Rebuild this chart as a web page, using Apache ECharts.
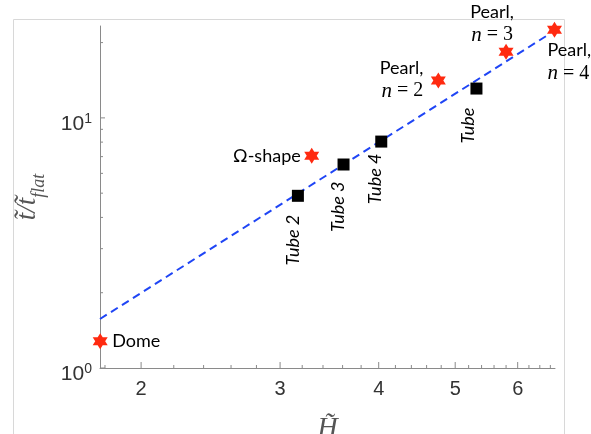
<!DOCTYPE html>
<html>
<head>
<meta charset="utf-8">
<script src="https://cdn.jsdelivr.net/npm/echarts@6/dist/echarts.min.js"></script>
<style>
  html, body { margin: 0; padding: 0; background: #fff; }
  #chart { width: 591px; height: 434px; }
</style>
</head>
<body>
<div id="chart"></div>
<script>
// axis ranges (log scales)
const X_MIN = 1.774, X_MAX = 6.69;
const Y_MIN = 1, Y_MAX = 23.3;

// tick values
const xMajorTicks = [2, 3, 4, 5, 6];
const xMinorTicks = [1.8, 2.2, 2.4, 2.6, 2.8, 3.2, 3.4, 3.6, 3.8, 4.2, 4.4, 4.6, 4.8,
  5.2, 5.4, 5.6, 5.8, 6.2, 6.4, 6.6];
const yMajorTicks = [1, 10];
const yMajorExp = ['0', '1'];
const yMinorTicks = [2, 3, 4, 5, 6, 7, 8, 9, 20];

// red stars
const starH = [1.775, 3.29, 4.76, 5.80, 6.68];
const starT = [1.28, 7.05, 14.1, 18.4, 22.5];
const starLabels = ['Dome', 'Ω-shape', 'Pearl,\n{i|n}{r| = 2}', 'Pearl,\n{i|n}{r| = 3}', 'Pearl,\n{i|n}{r| = 4}'];

// black squares
const tubeH = [3.16, 3.61, 4.03, 5.32];
const tubeT = [4.88, 6.51, 8.04, 13.1];
const tubeLabels = ['Tube 2', 'Tube 3', 'Tube 4', 'Tube'];

// dashed fit line
const fitH = [1.774, 6.56];
const fitT = [1.57, 21.5];

const AXIS_GRAY = '#8a8a8a';
const SANS = 'Liberation Sans';
const LABEL_FONT = 'Lato';
const SERIF = 'Liberation Serif';

const starPath = 'path://M0,-10 L2.89,-5 L8.66,-5 L5.77,0 L8.66,5 L2.89,5 L0,10 L-2.89,5 L-8.66,5 L-5.77,0 L-8.66,-5 L-2.89,-5 Z';

// label placement for the stars: [align, offsetX, offsetY]
const starLabelPlace = [
  ['left', 12, 0],
  ['right', -11, 0],
  ['right', -15, -1],
  ['center', -14, -28],
  ['left', -7, 32]
];
// screen offsets (dx, dy) of the top end of each rotated tube label
const tubeLabelOffset = [[-5, 19], [-5, 17], [-6, 12], [-8, 19]];

function tickSeries(values, axis, len, labelFn) {
  return {
    type: 'custom',
    silent: true,
    clip: false,
    z: 5,
    data: values.map((v, i) => axis === 'x' ? [v, Y_MIN, i] : [X_MIN, v, i]),
    renderItem: (params, api) => {
      const p = api.coord([api.value(0), api.value(1)]);
      const children = [];
      if (axis === 'x') {
        children.push({ type: 'line', shape: { x1: p[0], y1: p[1], x2: p[0], y2: p[1] - len },
          style: { stroke: AXIS_GRAY, lineWidth: 1 } });
      } else {
        children.push({ type: 'line', shape: { x1: p[0], y1: p[1], x2: p[0] + len, y2: p[1] },
          style: { stroke: AXIS_GRAY, lineWidth: 1 } });
      }
      if (labelFn) children.push(labelFn(p, api.value(2)));
      return { type: 'group', children };
    }
  };
}

const xLabel = (p, i) => ({
  type: 'text',
  style: {
    text: String(xMajorTicks[i]), x: p[0], y: p[1] + 11,
    fill: '#333', fontSize: 20, fontFamily: SANS,
    align: 'center', verticalAlign: 'top', textAlign: 'center', textVerticalAlign: 'top'
  }
});

const yLabel = (p, i) => ({
  type: 'text',
  style: {
    text: '{b|10}{p|' + yMajorExp[i] + '}', x: p[0] - 8, y: p[1] + 6,
    fill: '#333', align: 'right', verticalAlign: 'middle', textAlign: 'right', textVerticalAlign: 'middle',
    rich: {
      b: { fontSize: 21, fontFamily: SANS, fill: '#333', lineHeight: 24 },
      p: { fontSize: 14, fontFamily: SANS, fill: '#333', lineHeight: 4, verticalAlign: 'top' }
    }
  }
});

const starData = starH.map((h, i) => ({
  value: [h, starT[i]],
  label: {
    position: 'inside',
    align: starLabelPlace[i][0],
    verticalAlign: 'middle',
    offset: [starLabelPlace[i][1], starLabelPlace[i][2]]
  }
}));

// label offset is applied in the rotated frame: screen (dx, dy) -> (-dy, dx)
const tubeData = tubeH.map((h, i) => ({
  value: [h, tubeT[i]],
  label: { offset: [-tubeLabelOffset[i][1], tubeLabelOffset[i][0]] }
}));

const chart = echarts.init(document.getElementById('chart'));
chart.setOption({
  animation: false,
  backgroundColor: '#fff',
  grid: { left: 100, right: 36, top: 26, bottom: 66, outerBoundsMode: 'none', containLabel: false },
  graphic: [{
    type: 'rect', silent: true, z: -10,
    shape: { x: 13.5, y: 19.5, width: 551, height: 430 },
    style: { fill: 'none', stroke: '#d8d8d8', lineWidth: 1 }
  }],
  xAxis: {
    type: 'log', min: X_MIN, max: X_MAX,
    axisLine: { show: true, lineStyle: { color: AXIS_GRAY, width: 1 } },
    axisTick: { show: false }, axisLabel: { show: false }, splitLine: { show: false },
    name: 'H\u0303', nameLocation: 'middle', nameGap: 47,
    nameTextStyle: { fontFamily: SERIF, fontStyle: 'italic', fontSize: 28, color: '#555' }
  },
  yAxis: {
    type: 'log', min: Y_MIN, max: Y_MAX,
    axisLine: { show: true, lineStyle: { color: AXIS_GRAY, width: 1 } },
    axisTick: { show: false }, axisLabel: { show: false }, splitLine: { show: false },
    name: '{m|t\u0303/t\u0303}{s|flat}', nameLocation: 'middle', nameGap: 52,
    nameTextStyle: {
      rich: {
        m: { fontFamily: SERIF, fontStyle: 'italic', fontSize: 27, color: '#555', lineHeight: 28, verticalAlign: 'top' },
        s: { fontFamily: SERIF, fontStyle: 'italic', fontSize: 18, color: '#555', lineHeight: 34, verticalAlign: 'bottom' }
      }
    }
  },
  series: [
    tickSeries(xMinorTicks, 'x', 3),
    tickSeries(xMajorTicks, 'x', 6, xLabel),
    tickSeries(yMinorTicks, 'y', 3),
    tickSeries(yMajorTicks, 'y', 5, yLabel),
    {
      type: 'line',
      data: fitH.map((h, i) => [h, fitT[i]]),
      symbol: 'none',
      lineStyle: { color: '#1f45f5', width: 2, type: [8, 5] },
      z: 3
    },
    {
      type: 'scatter',
      data: tubeData,
      symbol: 'rect',
      symbolSize: 12,
      clip: false,
      itemStyle: { color: '#000', opacity: 1 },
      z: 4,
      label: {
        show: true,
        position: 'inside',
        rotate: 90,
        align: 'right',
        verticalAlign: 'middle',
        formatter: p => tubeLabels[p.dataIndex],
        fontFamily: LABEL_FONT, fontStyle: 'italic', fontSize: 18, color: '#000'
      }
    },
    {
      type: 'scatter',
      data: starData,
      symbol: starPath,
      symbolSize: [15, 16],
      clip: false,
      itemStyle: { color: '#ff2a10', opacity: 1 },
      z: 4,
      label: {
        show: true,
        formatter: p => starLabels[p.dataIndex],
        fontFamily: LABEL_FONT, fontSize: 18, color: '#000', lineHeight: 23,
        rich: {
          i: { fontFamily: SERIF, fontStyle: 'italic', fontSize: 21, color: '#000', lineHeight: 23 },
          r: { fontFamily: SERIF, fontSize: 20, color: '#000', lineHeight: 23 }
        }
      }
    }
  ]
});
</script>
</body>
</html>
